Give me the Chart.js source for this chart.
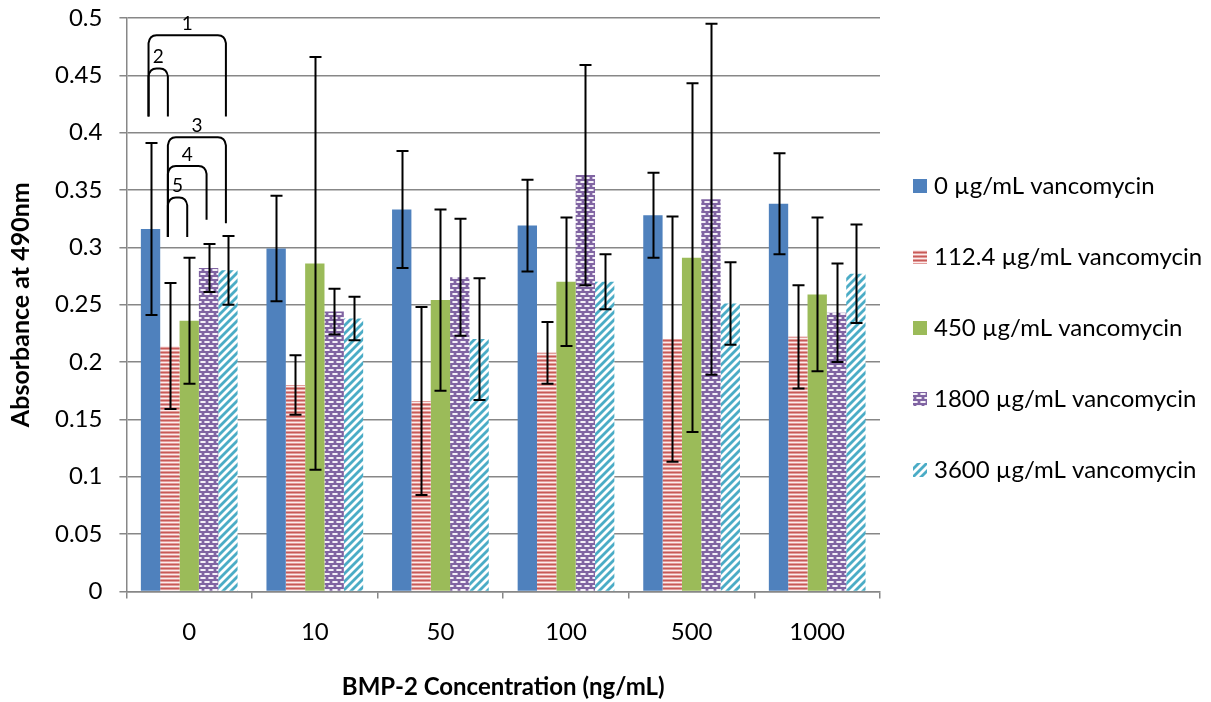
<!DOCTYPE html>
<html><head><meta charset="utf-8">
<script src="https://cdn.jsdelivr.net/npm/chart.js@4.4.1/dist/chart.umd.min.js"></script>
<style>html,body{margin:0;padding:0;background:#fff}#wrap{width:1211px;height:702px;position:relative}</style>
</head><body><div id="wrap"><canvas id="c" width="1211" height="702"></canvas></div>
<script>
// ---- data ----
const categories = ['0', '10', '50', '100', '500', '1000'];
const seriesLabels = ['0 µg/mL vancomycin', '112.4 µg/mL vancomycin', '450 µg/mL vancomycin', '1800 µg/mL vancomycin', '3600 µg/mL vancomycin'];
const vanc0    = [0.316, 0.299, 0.333, 0.319, 0.328, 0.338];
const vanc0Err = [0.075, 0.046, 0.051, 0.040, 0.037, 0.044];
const vanc112    = [0.214, 0.180, 0.166, 0.208, 0.220, 0.222];
const vanc112Err = [0.055, 0.026, 0.082, 0.027, 0.107, 0.045];
const vanc450    = [0.236, 0.286, 0.254, 0.270, 0.291, 0.259];
const vanc450Err = [0.055, 0.180, 0.079, 0.056, 0.152, 0.067];
const vanc1800    = [0.282, 0.244, 0.274, 0.363, 0.342, 0.243];
const vanc1800Err = [0.021, 0.020, 0.051, 0.096, 0.153, 0.043];
const vanc3600    = [0.280, 0.238, 0.220, 0.270, 0.251, 0.277];
const vanc3600Err = [0.030, 0.019, 0.053, 0.024, 0.036, 0.043];
// significance brackets (group "0"): series indices and heights in absorbance units
const brackets = [
  {label: '1', from: 0, to: 4, top: 0.485, footFrom: 0.414, footTo: 0.414},
  {label: '2', from: 0, to: 1, top: 0.456, footFrom: 0.414, footTo: 0.414},
  {label: '3', from: 1, to: 4, top: 0.396, footFrom: 0.309, footTo: 0.321},
  {label: '4', from: 1, to: 3, top: 0.371, footFrom: 0.309, footTo: 0.324},
  {label: '5', from: 1, to: 2, top: 0.3435, footFrom: 0.309, footTo: 0.309}
];

// ---- patterns ----
function makeTile(w, h, draw) {
  const c = document.createElement('canvas'); c.width = w; c.height = h;
  const g = c.getContext('2d'); draw(g, w, h);
  return document.getElementById('c').getContext('2d').createPattern(c, 'repeat');
}
const redStripes = makeTile(4, 4, (g) => {
  const rows = ['#C75A57', '#E29C9A', '#FBEDED', '#E29C9A'];
  rows.forEach((col, y) => { g.fillStyle = col; g.fillRect(0, y, 4, 1); });
});
const purpleDots = makeTile(8, 8, (g) => {
  g.fillStyle = '#8064A2'; g.fillRect(0, 0, 8, 8);
  g.fillStyle = '#F4F0F8';
  g.fillRect(1, 1, 4, 2);
  g.fillRect(5, 5, 3, 2); g.fillRect(0, 5, 1, 2);
  g.fillStyle = '#C4B6D6';
  g.fillRect(0, 1, 1, 2); g.fillRect(5, 1, 1, 2);
  g.fillRect(4, 5, 1, 2); g.fillRect(1, 5, 1, 2);
});
const cyanDiag = makeTile(8, 8, (g) => {
  for (let y = 0; y < 8; y++) for (let x = 0; x < 8; x++) {
    const k = (x + y) % 8;
    g.fillStyle = k < 3 ? '#FFFFFF' : (k === 3 || k === 7 ? '#A5D5E2' : '#4BACC6');
    g.fillRect(x, y, 1, 1);
  }
});

const fills = ['#4F81BD', redStripes, '#9BBB59', purpleDots, cyanDiag];
const values = [vanc0, vanc112, vanc450, vanc1800, vanc3600];
const errs = [vanc0Err, vanc112Err, vanc450Err, vanc1800Err, vanc3600Err];

const GRID = '#878787';
const FONT = 'Lato';

const errorBars = {
  id: 'errorBars',
  afterDatasetsDraw(chart) {
    const ctx = chart.ctx, ys = chart.scales.y;
    ctx.save();
    ctx.strokeStyle = '#000'; ctx.lineWidth = 2;
    chart.data.datasets.forEach((ds, di) => {
      const meta = chart.getDatasetMeta(di);
      meta.data.forEach((bar, i) => {
        const v = ds.data[i], e = ds.errors[i];
        const yT = ys.getPixelForValue(v + e), yB = ys.getPixelForValue(v - e);
        const x = Math.round(bar.x) + 0.5;
        ctx.beginPath();
        ctx.moveTo(x, yT); ctx.lineTo(x, yB);
        ctx.moveTo(x - 6, yT); ctx.lineTo(x + 6, yT);
        ctx.moveTo(x - 6, yB); ctx.lineTo(x + 6, yB);
        ctx.stroke();
      });
    });
    // brackets
    ctx.lineWidth = 2;
    ctx.fillStyle = '#000';
    ctx.font = '19px ' + FONT;
    ctx.textAlign = 'center'; ctx.textBaseline = 'bottom';
    brackets.forEach(b => {
      const xL = chart.getDatasetMeta(b.from).data[0].x - 2;
      const xR = chart.getDatasetMeta(b.to).data[0].x - 2;
      const yTop = ys.getPixelForValue(b.top);
      const yL = ys.getPixelForValue(b.footFrom), yR = ys.getPixelForValue(b.footTo);
      const r = 8;
      ctx.beginPath();
      ctx.moveTo(xL, yL);
      ctx.lineTo(xL, yTop + r);
      ctx.quadraticCurveTo(xL + 1, yTop, xL + r, yTop);
      ctx.lineTo(xR - r, yTop);
      ctx.quadraticCurveTo(xR - 1, yTop, xR, yTop + r);
      ctx.lineTo(xR, yR);
      ctx.stroke();
      ctx.fillText(b.label, (xL + xR) / 2, yTop - 2);
    });
    ctx.restore();
  }
};

const sideLegend = {
  id: 'sideLegend',
  afterDraw(chart) {
    const ctx = chart.ctx, a = chart.chartArea;
    ctx.save();
    ctx.font = '24px ' + FONT;
    ctx.textBaseline = 'middle'; ctx.textAlign = 'left';
    chart.data.datasets.forEach((ds, i) => {
      const y = a.top + 168 + i * 71;
      ctx.fillStyle = ds.backgroundColor;
      ctx.fillRect(a.right + 33, y - 7, 14, 14);
      ctx.fillStyle = '#000';
      ctx.fillText(ds.label, a.right + 54, y);
    });
    ctx.restore();
  }
};

new Chart(document.getElementById('c'), {
  type: 'bar',
  data: {
    labels: categories,
    datasets: seriesLabels.map((lab, i) => ({
      label: lab, data: values[i], errors: errs[i],
      backgroundColor: fills[i], borderWidth: 0,
      categoryPercentage: 0.77, barPercentage: 1.0
    }))
  },
  options: {
    responsive: false, animation: false,
    layout: {padding: {top: 0, right: 331, left: 0, bottom: 0}},
    plugins: {legend: {display: false}, tooltip: {enabled: false}},
    scales: {
      x: {
        grid: {drawOnChartArea: false, drawTicks: true, tickLength: 7, color: GRID, lineWidth: 1.5},
        border: {color: GRID, width: 1.5},
        ticks: {color: '#000', font: {family: FONT, size: 24}, padding: 19},
        title: {display: true, text: 'BMP-2 Concentration (ng/mL)', color: '#000',
                font: {family: FONT, size: 24, weight: 'bold'}, padding: {top: 8, bottom: 0}}
      },
      y: {
        min: 0, max: 0.5,
        afterFit: (s) => { s.paddingTop = 18; },
        grid: {color: GRID, lineWidth: 1.5, drawTicks: true, tickLength: 7},
        border: {color: GRID, width: 1.5},
        ticks: {stepSize: 0.05, color: '#000', font: {family: FONT, size: 24}, padding: 17,
                callback: v => String(+v.toFixed(2))},
        title: {display: true, text: 'Absorbance at 490nm', color: '#000',
                font: {family: FONT, size: 25, weight: 'bold'}, padding: {top: 6, bottom: 2}}
      }
    }
  },
  plugins: [errorBars, sideLegend]
});
</script>
</body></html>
